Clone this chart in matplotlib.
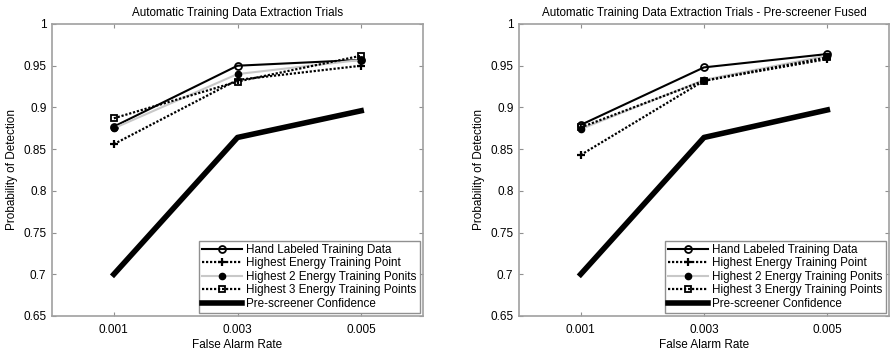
import matplotlib.pyplot as plt

plt.rcParams['font.family'] = ['Liberation Sans', 'DejaVu Sans']

far = [0.001, 0.003, 0.005]
xtick_labels = ['0.001', '0.003', '0.005']

series_names = [
    'Hand Labeled Training Data',
    'Highest Energy Training Point',
    'Highest 2 Energy Training Ponits',
    'Highest 3 Energy Training Points',
    'Pre-screener Confidence',
]

# left panel
left_hand = [0.877, 0.950, 0.957]
left_top1 = [0.856, 0.933, 0.950]
left_top2 = [0.875, 0.940, 0.957]
left_top3 = [0.887, 0.931, 0.962]
left_pre = [0.700, 0.864, 0.896]

# right panel (pre-screener fused)
right_hand = [0.879, 0.948, 0.964]
right_top1 = [0.843, 0.932, 0.958]
right_top2 = [0.874, 0.933, 0.962]
right_top3 = [0.876, 0.932, 0.960]
right_pre = [0.700, 0.864, 0.897]

titles = ['Automatic Training Data Extraction Trials',
          'Automatic Training Data Extraction Trials - Pre-screener Fused']

dots = (0, (1, 0.8))
styles = [
    dict(color='black', linestyle='-', linewidth=1.5, marker='o', markersize=5,
         markerfacecolor='none', markeredgewidth=1.3),
    dict(color='black', linestyle=dots, linewidth=1.6, marker='+', markersize=6,
         markeredgewidth=1.6),
    dict(color='#c8c8c8', linestyle='-', linewidth=1.5, marker='o', markersize=4.5,
         markerfacecolor='black', markeredgecolor='black'),
    dict(color='black', linestyle=dots, linewidth=1.6, marker='s', markersize=4.5,
         markerfacecolor='none', markeredgecolor='black', markeredgewidth=1.3),
    dict(color='black', linestyle='-', linewidth=4),
]

fig = plt.figure(figsize=(8.9, 3.6), dpi=100)
ax_l = fig.add_axes([52 / 890, 44 / 360, 371 / 890, 292 / 360])
ax_r = fig.add_axes([519 / 890, 44 / 360, 370 / 890, 292 / 360])

panels = [
    (ax_l, [left_hand, left_top1, left_top2, left_top3, left_pre]),
    (ax_r, [right_hand, right_top1, right_top2, right_top3, right_pre]),
]

for (ax, data), title in zip(panels, titles):
    for name, vals, st in zip(series_names, data, styles):
        ax.plot(far, vals, label=name, **st)
    ax.set_xlim(0, 0.006)
    ax.set_ylim(0.65, 1.0)
    ax.set_xticks(far)
    ax.set_xticklabels(xtick_labels)
    ax.set_yticks([0.65, 0.7, 0.75, 0.8, 0.85, 0.9, 0.95, 1.0])
    ax.set_yticklabels(['0.65', '0.7', '0.75', '0.8', '0.85', '0.9', '0.95', '1'])
    ax.tick_params(direction='in', length=3, color='#909090', labelsize=8.5,
                   top=True, right=True, pad=4)
    ax.tick_params(axis='x', pad=6)
    for sp in ax.spines.values():
        sp.set_color('#a0a0a0')
        sp.set_linewidth(1.2)
    ax.set_title(title, fontsize=8.4, pad=6)
    ax.set_xlabel('False Alarm Rate', fontsize=8.5, labelpad=2)
    ax.set_ylabel('Probability of Detection', fontsize=8.5, labelpad=4)
    leg = ax.legend(loc='lower right', fontsize=8.4, fancybox=False, framealpha=1,
                    handlelength=3.4, handletextpad=0.4, labelspacing=0.12,
                    borderpad=0.25, borderaxespad=0.3)
    leg.get_frame().set_edgecolor('#909090')
    leg.get_frame().set_linewidth(1.0)

fig.savefig('out.png', dpi=100)
